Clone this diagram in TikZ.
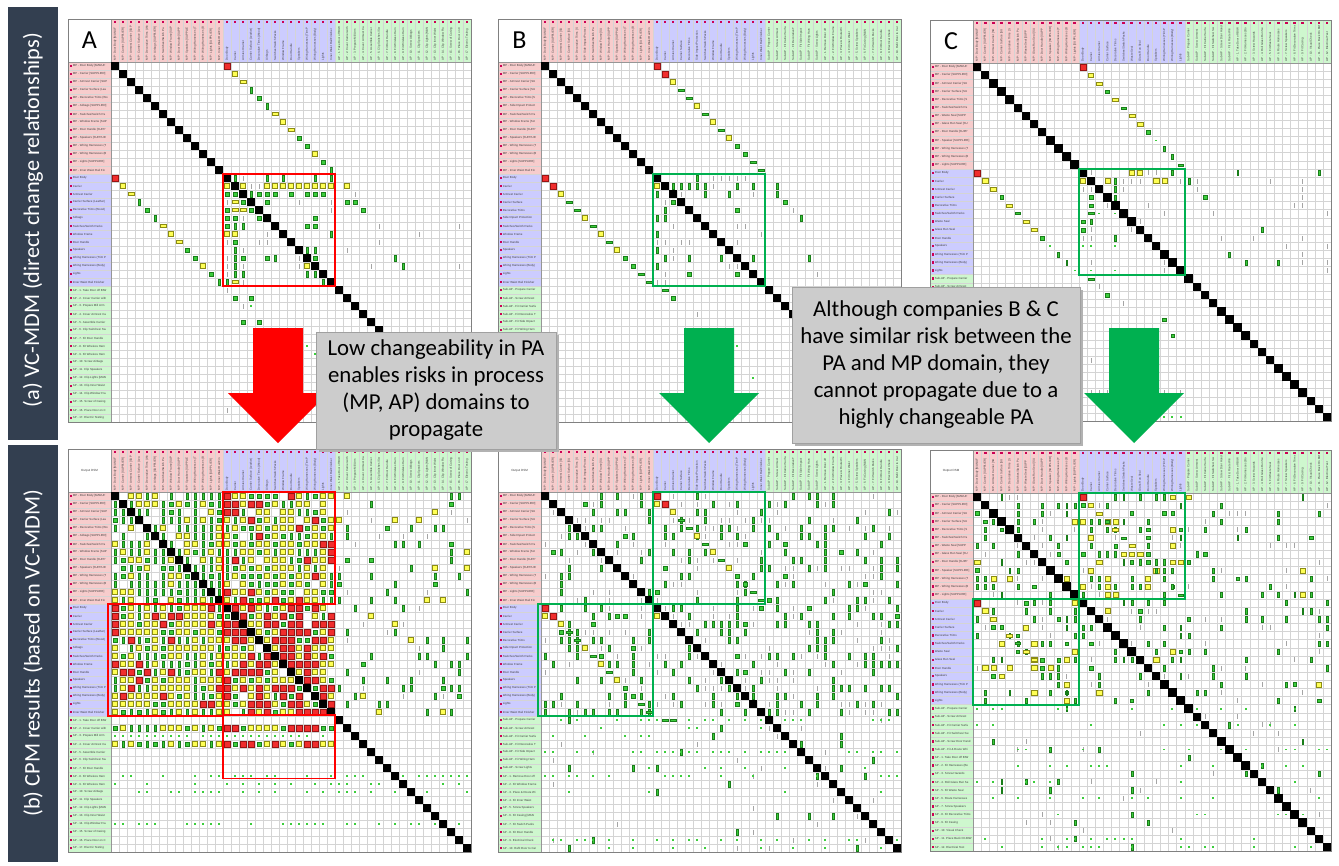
\documentclass[tikz,border=0pt]{standalone}
\usepackage{fontspec}
\setmainfont{Carlito}
\newfontfamily\tinyf{Liberation Sans}
\definecolor{barc}{RGB}{51,63,80}
\definecolor{hpink}{RGB}{247,204,204}
\definecolor{hblue}{RGB}{204,204,255}
\definecolor{hgreen}{RGB}{206,247,206}
\definecolor{gridc}{RGB}{212,212,212}
\definecolor{framec}{RGB}{128,128,128}
\definecolor{hdrc}{RGB}{150,150,150}
\definecolor{msq}{RGB}{205,0,85}
\definecolor{mredf}{RGB}{240,45,45}
\definecolor{mredd}{RGB}{150,20,20}
\definecolor{myelf}{RGB}{255,255,85}
\definecolor{myeld}{RGB}{140,140,20}
\definecolor{mgrnf}{RGB}{60,205,60}
\definecolor{mgrnd}{RGB}{25,125,25}
\definecolor{mgray}{RGB}{165,165,165}
\definecolor{boxred}{RGB}{255,0,0}
\definecolor{boxgrn}{RGB}{0,176,80}
\definecolor{arred}{RGB}{255,0,0}
\definecolor{argrn}{RGB}{0,176,80}
\definecolor{calf}{RGB}{204,204,204}
\definecolor{cald}{RGB}{160,160,160}
\tikzset{
 gridl/.style={draw=gridc,line width=0.3},
 framel/.style={draw=framec,line width=0.7},
 hdrl/.style={draw=hdrc,line width=0.5},
 mR/.style={fill=mredf,draw=mredd,line width=0.3},
 mY/.style={fill=myelf,draw=myeld,line width=0.3},
 mG/.style={fill=mgrnf,draw=mgrnd,line width=0.2},
 mT/.style={fill=mgray},
 rbox/.style={draw=boxred,line width=1.8},
 gbox/.style={draw=boxgrn,line width=1.8},
 rowlab/.style={anchor=west,inner sep=0pt,font=\tinyf\fontsize{2.9}{3.2}\selectfont,text=black!75},
 collab/.style={rotate=90,anchor=west,inner sep=0pt,font=\tinyf\fontsize{2.9}{3.2}\selectfont,text=black!75},
 biglab/.style={font=\fontsize{26}{26}\selectfont,inner sep=0pt},
 dsmlab/.style={font=\tinyf\fontsize{3}{3.5}\selectfont,inner sep=0pt,text=black!75},
 callout/.style={fill=calf,draw=cald,line width=0.8,align=center,font=\fontsize{22.8}{27}\selectfont,inner sep=0pt},
 bartext/.style={rotate=90,text=white,font=\fontsize{22.3}{24}\selectfont,inner sep=0pt},
}
% panel geometry
\newcommand\setpanel[7]{\def\px{#1}\def\py{#2}\def\pn{#3}\def\cw{#4}\def\ch{#5}\def\nmp{#6}\def\npa{#7}}
\newcommand\drawpanel{%
 \pgfmathsetmacro\pr{\px+\pn*\cw}\pgfmathsetmacro\pb{\py+\pn*\ch}%
 \pgfmathsetmacro\xa{\px+\nmp*\cw}\pgfmathsetmacro\xb{\px+(\nmp+\npa)*\cw}%
 \pgfmathsetmacro\ya{\py+\nmp*\ch}\pgfmathsetmacro\yb{\py+(\nmp+\npa)*\ch}%
 \fill[white] (\px-43,\py-43) rectangle (\pr,\pb);
 \fill[hpink] (\px,\py-43) rectangle (\xa,\py);
 \fill[hblue] (\xa,\py-43) rectangle (\xb,\py);
 \fill[hgreen] (\xb,\py-43) rectangle (\pr,\py);
 \fill[hpink] (\px-43,\py) rectangle (\px,\ya);
 \fill[hblue] (\px-43,\ya) rectangle (\px,\yb);
 \fill[hgreen] (\px-43,\yb) rectangle (\px,\pb);
 \foreach \kk in {1,...,\pn}{%
   \draw[gridl] (\px+\kk*\cw,\py-43) -- (\px+\kk*\cw,\pb);
   \draw[gridl] (\px-43,\py+\kk*\ch) -- (\pr,\py+\kk*\ch);
   \fill[msq] (\px+\kk*\cw-0.5*\cw-1.3,\py-41.5) rectangle ++(2.6,2.6);
   \fill[msq] (\px-41.5,\py+\kk*\ch-0.5*\ch-1.3) rectangle ++(2.6,2.6);
 }
 \draw[hdrl] (\px,\py-43) -- (\px,\pb) (\px-43,\py) -- (\pr,\py);
}
\newcommand\panellabels[2]{%
 \begin{scope}
 \clip (\px-38,\py) rectangle (\px-0.5,\pb);
 \foreach \lbl [count=\lk] in #1 {\node[rowlab] (#2r\lk) at (\px-38.3,\py+\lk*\ch-0.5*\ch) {\lbl};}
 \end{scope}
 \begin{scope}
 \clip (\px,\py-38) rectangle (\pr,\py);
 \foreach \lbl [count=\lk] in #1 {\node[collab] (#2c\lk) at (\px+\lk*\cw-0.5*\cw,\py-1.5) {\lbl};}
 \end{scope}}
% marks
\newcommand\mkx[3]{\pgfmathsetmacro\mx{\px+(#2-0.5)*\cw}\pgfmathsetmacro\my{\py+(#1-0.5)*\ch}\csname mkT#3\endcsname}
\def\mkTR{\filldraw[mR] (\mx-3,\my-3) rectangle (\mx+3,\my+3);}
\def\mkTY{\filldraw[mY] (\mx-2.6,\my-2.4) rectangle (\mx+2.6,\my+2.4);}
\def\mkTy{\filldraw[mY] (\mx-3,\my-1.6) rectangle (\mx+3,\my+1.6);}
\def\mkTG{\filldraw[mG] (\mx-1.8,\my-1.8) rectangle (\mx+1.8,\my+1.8);}
\def\mkTg{\filldraw[mG] (\mx-0.9,\my-2.6) rectangle (\mx+0.9,\my+2.6);}
\def\mkTh{\filldraw[mG] (\mx-2.6,\my-1) rectangle (\mx+2.6,\my+1);}
\def\mkTt{\fill[mT] (\mx-0.35,\my-2.5) rectangle (\mx+0.35,\my+2.5);}
\def\mkTd{\fill[mgrnf] (\mx-1,\my-0.8) rectangle (\mx+1,\my+0.8);}
\def\mkTB{\fill[black] (\mx-0.5*\cw-0.2,\my-0.5*\ch-0.2) rectangle (\mx+0.5*\cw+0.2,\my+0.5*\ch+0.2);}
\newcommand\finishpanel{\foreach \kk in {1,...,\pn}{\mkx{\kk}{\kk}{B}}\draw[framel] (\px-43,\py-43) rectangle (\pr,\pb);}
\newcommand\rblock[9]{\foreach \rowi in {#1,...,#2}{\foreach \coli in {#3,...,#4}{%
 \ifnum\rowi=\coli\relax\else
 \pgfmathsetmacro\rndv{rnd}%
 \pgfmathtruncatemacro\mtype{(\rndv<#5)?1:((\rndv<#5+#6)?2:((\rndv<#5+#6+#7)?3:((\rndv<#5+#6+#7+#8)?4:((\rndv<#5+#6+#7+#8+#9)?5:0))))}%
 \ifcase\mtype\or\mkx{\rowi}{\coli}{R}\or\mkx{\rowi}{\coli}{Y}\or\mkx{\rowi}{\coli}{G}\or\mkx{\rowi}{\coli}{g}\or\mkx{\rowi}{\coli}{t}\fi
 \fi}}}
\newcommand\rdots[4]{\foreach \coli in {#2,...,#3}{\pgfmathsetmacro\rndv{rnd}\ifdim\rndv pt<#4pt\mkx{#1}{\coli}{d}\fi}}
\newcommand\boxrc[5]{\draw[#5] (\px+#2*\cw-\cw,\py+#1*\ch-\ch) rectangle (\px+#4*\cw,\py+#3*\ch);}
\newcommand\handmarks[1]{\foreach \rowi/\coli/\mt in {#1}{\mkx{\rowi}{\coli}{\mt}}}
% label lists
\def\listA{MP - Door Body [MANUF,MP - Carrier [SUPPLIER],MP - Armrest Carrier [SUP,MP - Carrier Surface (Lea,MP - Decorative Trims (Wo,MP - Airbags [SUPPLIER],MP - Switches/Switch Pa,MP - Window Frame [SUP,MP - Door Handle [SUPP,MP - Speakers [SUPPLIE,MP - Wiring Harnesses (T,MP - Wiring Harnesses (B,MP - Lights [SUPPLIER],MP - Inner Waist Rail Fin,Door Body,Carrier,Armrest Carrier,Carrier Surface (Leather),Decorative Trims (Wood),Airbags,Switches/Switch Packs,Window Frame,Door Handle,Speakers,Wiring Harnesses (Trim P,Wiring Harnesses (Body),Lights,Inner Waist Rail Finisher,AP - 1. Take Door off BIW,AP - 2. Cover Carrier with,AP - 3. Prepare Mill Arm,AP - 4. Cover Armrest Ca,AP - 5. Assemble Carrier,AP - 6. Clip Switches/ Sw,AP - 7. Fit Door Handle,AP - 8. Fit Wireless Harn,AP - 9. Fit Wireless Harn,AP - 10. Screw Airbags,AP - 11. Clip Speakers,AP - 12. Clip Lights [MAN,AP - 13. Clip Inner Waist,AP - 14. Clip Window Fra,AP - 15. Screw of Casing,AP - 16. Place Door on C,AP - 17. Electric Testing}
\def\listB{MP - Door Body [MANUF,MP - Carrier [SUPPLIER],MP - Armrest Carrier [SU,MP - Carrier Surface [SU,MP - Decorative Trims [S,MP - Side Impact Protect,MP - Switches/Switch Pa,MP - Window Frame [SU,MP - Door Handle [SUPP,MP - Speakers [SUPPLIE,MP - Wiring Harnesses (T,MP - Wiring Harnesses (B,MP - Lights [SUPPLIER],MP - Inner Waist Rail Fin,Door Body,Carrier,Armrest Carrier,Carrier Surface,Decorative Trims,Side Impact Protection,Switches/Switch Packs,Window Frame,Door Handle,Speakers,Wiring Harnesses (Trim P,Wiring Harnesses (Body),Lights,Inner Waist Rail Finisher,Sub-AP - Prepare Carrier,Sub-AP - Screw Armrest,Sub-AP - Fit Carrier Surfa,Sub-AP - Fit Decorative T,Sub-AP - Fit Side Impact,Sub-AP - Fit Wiring Harn,Sub-AP - Screw Lights,AP - 1. Remove Door off,AP - 2. Fit Window Frame,AP - 3. Place \& Route Wi,AP - 4. Fit Inner Waist,AP - 5. Screw Speakers,AP - 6. Fit Casing [MAN,AP - 7. Fit Switch Packs,AP - 8. Fit Door Handle,AP - 9. Electrical Check,AP - 10. Refit Door to Car}
\def\listC{MP - Door Body [MANUF,MP - Carrier [SUPPLIER],MP - Armrest Carrier [SU,MP - Carrier Surface [SU,MP - Decorative Trims [S,MP - Switches/Switch Pa,MP - Waste Seal [SUPP,MP - Glass Run Seal [SU,MP - Door Handle [SUPP,MP - Speaker [SUPPLIER],MP - Wiring Harnesses (T,MP - Wiring Harnesses (B,MP - Lights [SUPPLIER],Door Body,Carrier,Armrest Carrier,Carrier Surface,Decorative Trims,Switches/Switch Packs,Waste Seal,Glass Run Seal,Door Handle,Speakers,Wiring Harnesses (Trim P,Wiring Harnesses (Body),Lights,Sub-AP - Prepare Carrier,Sub-AP - Screw Armrest,Sub-AP - Fit Carrier Surfa,Sub-AP - Fit Switches/ Sw,Sub-AP - Screw Door Hand,Sub-AP - Fit \& Route Wiri,AP - 1. Take Door off BIW,AP - 2. Fit Harnesses (Bo,AP - 3. Screw Hazards,AP - 4. Roll Glass Run Se,AP - 5. Fit Waste Seal,AP - 6. Route Harnesses,AP - 7. Screw Speakers,AP - 8. Fit Decorative Trims,AP - 9. Fit Casing,AP - 10. Visual Check,AP - 11. Place Back On BIW,AP - 12. Electrical Test}
\begin{document}
\begin{tikzpicture}[x=1pt,y=-1pt]
\useasboundingbox (0,0) rectangle (1339,865);
\fill[white] (0,0) rectangle (1339,865);
\pgfmathsetseed{7}
% ---------- side bars ----------
\fill[barc] (8,7) rectangle (58,440);
\node[bartext] (bara) at (33,220) {(a) VC-MDM (direct change relationships)};
\fill[barc] (8,445) rectangle (58,862);
\node[bartext] (barb) at (33,653) {(b) CPM results (based on VC-MDM)};
% ---------- top A ----------
\setpanel{111}{62}{45}{8}{8}{14}{14}
\drawpanel
\panellabels{\listA}{At}
\node[biglab] (labA) at (\px-21.5,\py-21.5) {A};
\handmarks{1/15/R,2/16/Y,3/17/y,4/18/g,5/19/G,6/20/g,7/21/y,8/22/Y,9/23/y,10/24/G,11/25/G,12/26/Y,13/27/G,14/28/g,15/1/R,16/2/Y,17/3/y,18/4/g,19/5/G,20/6/g,21/7/y,22/8/Y,23/9/y,24/10/G,25/11/G,26/12/Y,27/13/G,28/14/g,15/16/g,15/17/t,15/20/g,15/22/g,15/26/g,15/28/g,16/15/Y,16/17/Y,16/18/t,16/19/t,16/20/Y,16/21/Y,16/22/Y,16/23/Y,16/24/Y,16/25/Y,16/26/Y,16/27/Y,16/28/Y,16/30/Y,17/15/G,17/16/G,17/18/g,17/19/G,17/20/G,17/21/G,17/23/G,17/25/G,17/26/G,17/27/G,17/31/t,18/15/t,18/16/y,18/17/G,18/20/G,18/24/t,18/28/t,18/30/G,18/31/G,19/15/G,19/16/y,19/17/y,19/18/G,19/28/t,19/32/G,20/15/G,20/16/G,20/17/t,20/19/G,20/26/G,21/15/G,21/16/g,21/17/g,21/25/G,21/26/G,21/34/t,21/44/t,22/15/Y,22/16/Y,22/20/t,22/28/g,22/39/t,23/15/t,23/16/G,23/19/t,23/20/t,23/34/t,24/16/g,24/17/t,24/25/g,24/26/g,24/30/t,25/15/t,25/16/g,25/17/G,25/20/G,25/21/g,25/24/t,25/26/G,25/36/g,26/15/t,26/16/g,26/17/t,26/24/t,26/25/Y,26/33/t,26/37/g,26/44/t,27/15/t,27/16/g,27/17/g,27/25/g,27/26/g,28/15/g,28/16/y,28/17/t,28/27/g,29/15/t,30/16/G,30/18/G,31/17/t,31/18/d,33/17/G,33/19/G,36/25/d,37/26/d,44/15/t}
\finishpanel
\boxrc{15}{15}{28}{28}{rbox}
% ---------- top B ----------
\setpanel{541}{62}{45}{8}{8}{14}{14}
\drawpanel
\panellabels{\listB}{Bt}
\node[biglab] (labB) at (\px-21.5,\py-21.5) {B};
\handmarks{1/15/R,2/16/R,3/17/Y,4/18/h,5/19/h,6/20/Y,7/21/h,8/22/Y,9/23/h,10/24/Y,11/25/G,12/26/G,13/27/h,14/28/h,15/1/R,16/2/R,17/3/Y,18/4/h,19/5/h,20/6/Y,21/7/h,22/8/Y,23/9/h,24/10/Y,25/11/G,26/12/G,27/13/h,28/14/h,15/20/g,15/22/t,15/23/t,15/24/t,15/25/t,15/26/t,16/15/Y,16/17/g,16/18/g,16/19/g,16/20/g,16/21/g,16/22/t,16/25/g,16/27/g,16/30/g,17/15/g,17/18/t,17/21/g,17/24/g,17/27/t,17/30/g,18/16/t,18/17/G,18/31/G,19/16/g,19/25/G,19/32/t,20/15/g,20/16/g,20/33/g,21/17/t,21/25/t,21/26/t,22/15/g,22/28/t,23/15/t,23/16/t,23/18/t,23/19/t,23/25/t,24/15/g,24/17/t,25/16/g,25/17/t,25/19/g,25/23/g,25/27/g,25/34/g,26/15/g,26/24/t,26/25/t,27/16/t,27/19/G,27/25/G,27/35/t,28/15/t,28/16/t,29/16/h,30/17/G,32/20/t,34/22/d,35/23/t,36/25/d,38/22/t,40/27/d}
\finishpanel
\boxrc{15}{15}{28}{28}{gbox}
% ---------- top C ----------
\setpanel{973}{63}{44}{8.14}{8.14}{13}{13}
\drawpanel
\panellabels{\listC}{Ct}
\node[biglab] (labC) at (\px-22,\py-22) {C};
\handmarks{1/14/R,2/15/Y,3/16/y,4/17/G,5/18/y,6/19/h,7/20/y,8/21/y,9/22/G,10/23/d,11/24/g,12/25/g,13/26/h,14/1/R,15/2/Y,16/3/y,17/4/G,18/5/y,19/6/h,20/7/y,21/8/y,22/9/G,23/10/d,24/11/g,25/12/g,26/13/d,14/15/t,14/20/Y,14/21/Y,14/22/t,14/23/t,14/25/g,14/33/g,14/43/g,15/14/Y,15/17/Y,15/18/g,15/19/t,15/20/t,15/21/t,15/23/Y,15/24/Y,15/26/t,15/27/g,15/28/t,15/37/t,15/41/t,16/14/t,16/15/t,16/18/g,16/19/t,16/28/t,16/41/t,17/15/G,17/18/g,17/29/G,17/41/t,18/15/G,18/17/t,18/22/t,18/40/t,18/41/t,19/15/h,19/16/d,19/18/d,19/24/t,19/30/t,19/44/t,20/14/G,20/15/g,20/21/t,21/14/G,21/15/t,21/20/t,21/36/g,22/14/t,22/15/t,22/18/g,22/31/t,22/35/t,22/41/t,23/14/d,23/15/d,23/18/d,23/39/t,23/44/t,24/32/g,24/41/t,25/15/t,25/24/t,25/34/g,25/38/g,25/41/t,25/44/t,26/15/d,26/18/d,26/24/t,26/44/t,27/15/h,28/16/t,29/17/G,30/19/t,32/24/G,34/25/G,37/15/t,41/15/t,41/16/t,41/17/t,41/24/t,41/26/t,44/24/d,44/25/d,44/26/d}
\finishpanel
\boxrc{14}{14}{26}{26}{gbox}
% ---------- bottom A ----------
\setpanel{111}{492}{45}{8}{8}{14}{14}
\drawpanel
\panellabels{\listA}{Ab}
\node[dsmlab] (dsmA) at (\px-21.5,\py-21.5) {Output DSM};
\rblock{1}{14}{1}{14}{0}{0.2}{0.12}{0.55}{0}
\rblock{1}{14}{15}{28}{0.12}{0.5}{0.18}{0.15}{0}
\rblock{15}{28}{1}{14}{0.12}{0.4}{0.2}{0.25}{0}
\rblock{15}{28}{15}{28}{0.45}{0.35}{0.12}{0.05}{0}
\rblock{1}{28}{29}{45}{0}{0.03}{0.03}{0.14}{0.05}
\rblock{30}{30}{1}{14}{0}{0.5}{0.2}{0.3}{0}
\rblock{30}{30}{15}{28}{0.4}{0.4}{0.2}{0}{0}
\rblock{32}{32}{1}{14}{0}{0.5}{0.2}{0.3}{0}
\rblock{32}{32}{15}{28}{0.4}{0.4}{0.2}{0}{0}
\rdots{31}{1}{28}{0.7}
\rdots{36}{1}{45}{0.6}
\rdots{37}{1}{45}{0.4}
\rdots{38}{1}{45}{0.5}
\rdots{42}{1}{45}{0.5}
\handmarks{15/1/R,16/1/R,17/1/R,18/1/R,22/1/R,1/15/R,2/15/R,2/16/R,3/15/R,3/16/R}
\finishpanel
\boxrc{1}{15}{14}{28}{rbox}
\boxrc{15}{0.65}{28}{14}{rbox}
\boxrc{28.9}{15}{35.8}{28}{rbox}
% ---------- bottom B ----------
\setpanel{541}{492}{45}{8}{8}{14}{14}
\drawpanel
\panellabels{\listB}{Bb}
\node[dsmlab] (dsmB) at (\px-21.5,\py-21.5) {Output DSM};
\rblock{1}{28}{1}{45}{0}{0}{0.02}{0.22}{0.15}
\rblock{29}{45}{1}{45}{0}{0}{0}{0.02}{0.03}
\rdots{29}{1}{45}{0.5}
\rdots{30}{1}{30}{0.3}
\rdots{31}{1}{20}{0.3}
\rdots{33}{1}{45}{0.3}
\rdots{35}{1}{45}{0.2}
\rdots{36}{1}{45}{0.3}
\rdots{38}{1}{45}{0.2}
\rdots{44}{1}{45}{0.4}
\rdots{45}{1}{45}{0.2}
\handmarks{1/15/R,2/15/Y,2/16/R,3/17/Y,4/18/h,5/19/h,6/20/Y,7/21/h,8/22/Y,9/23/h,10/24/Y,11/25/G,12/26/G,13/27/h,14/28/h,15/1/R,16/1/Y,16/2/R,17/3/Y,18/4/h,19/5/h,20/6/Y,21/7/h,22/8/Y,23/9/h,24/10/Y,25/11/G,26/12/G,27/13/h,28/14/h,16/15/Y,29/16/h,29/17/h}
\finishpanel
\boxrc{1}{15}{14}{28}{gbox}
\boxrc{15}{0.65}{28}{14}{gbox}
% ---------- bottom C ----------
\setpanel{973}{493}{44}{8.14}{8.14}{13}{13}
\drawpanel
\panellabels{\listC}{Cb}
\node[dsmlab] (dsmC) at (\px-22,\py-22) {Output DSM};
\rblock{1}{13}{1}{13}{0}{0.03}{0.03}{0.2}{0.1}
\rblock{1}{13}{14}{26}{0}{0.12}{0.06}{0.2}{0.05}
\rblock{14}{26}{1}{13}{0}{0.12}{0.06}{0.2}{0.05}
\rblock{14}{26}{14}{26}{0}{0.03}{0.03}{0.2}{0.1}
\rblock{1}{26}{27}{44}{0}{0.01}{0.02}{0.12}{0.06}
\rblock{27}{44}{1}{44}{0}{0}{0}{0.03}{0.03}
\rdots{27}{1}{44}{0.3}
\rdots{29}{1}{44}{0.2}
\rdots{32}{1}{44}{0.25}
\rdots{34}{1}{44}{0.2}
\rdots{36}{1}{44}{0.2}
\rdots{38}{1}{44}{0.25}
\rdots{40}{1}{44}{0.2}
\rdots{43}{1}{44}{0.3}
\rdots{44}{1}{44}{0.3}
\handmarks{1/14/R,2/15/Y,3/16/y,4/17/G,5/18/y,6/19/h,7/20/y,8/21/y,9/22/G,10/23/g,11/24/g,12/25/g,13/26/h,14/1/R,15/2/Y,16/3/y,17/4/G,18/5/y,19/6/h,20/7/y,21/8/y,22/9/G,23/10/g,24/11/g,25/12/g,26/13/g}
\finishpanel
\boxrc{1}{14}{13}{26}{gbox}
\boxrc{14}{1}{26}{13}{gbox}
% ---------- arrows ----------
\fill[arred] (253,328) -- (303,328) -- (303,393) -- (328,393) -- (278,443) -- (228,393) -- (253,393) -- cycle;
\fill[argrn] (684,328) -- (734,328) -- (734,393) -- (759,393) -- (709,443) -- (659,393) -- (684,393) -- cycle;
\fill[argrn] (1109,328) -- (1159,328) -- (1159,393) -- (1184,393) -- (1134,443) -- (1084,393) -- (1109,393) -- cycle;
% ---------- callouts ----------
\fill[black!30] (319,335) rectangle (559,452);
\node[callout, minimum width=240pt, minimum height=117pt] (co1) at (436,390.5) {Low changeability in PA\\enables risks in process\\(MP, AP) domains to\\propagate};
\fill[black!30] (795,290) rectangle (1083,446);
\node[callout, minimum width=288pt, minimum height=156pt] (co2) at (936,365) {Although companies B \& C\\have similar risk between the\\PA and MP domain, they\\cannot propagate due to a\\highly changeable PA};
\end{tikzpicture}
\end{document}
